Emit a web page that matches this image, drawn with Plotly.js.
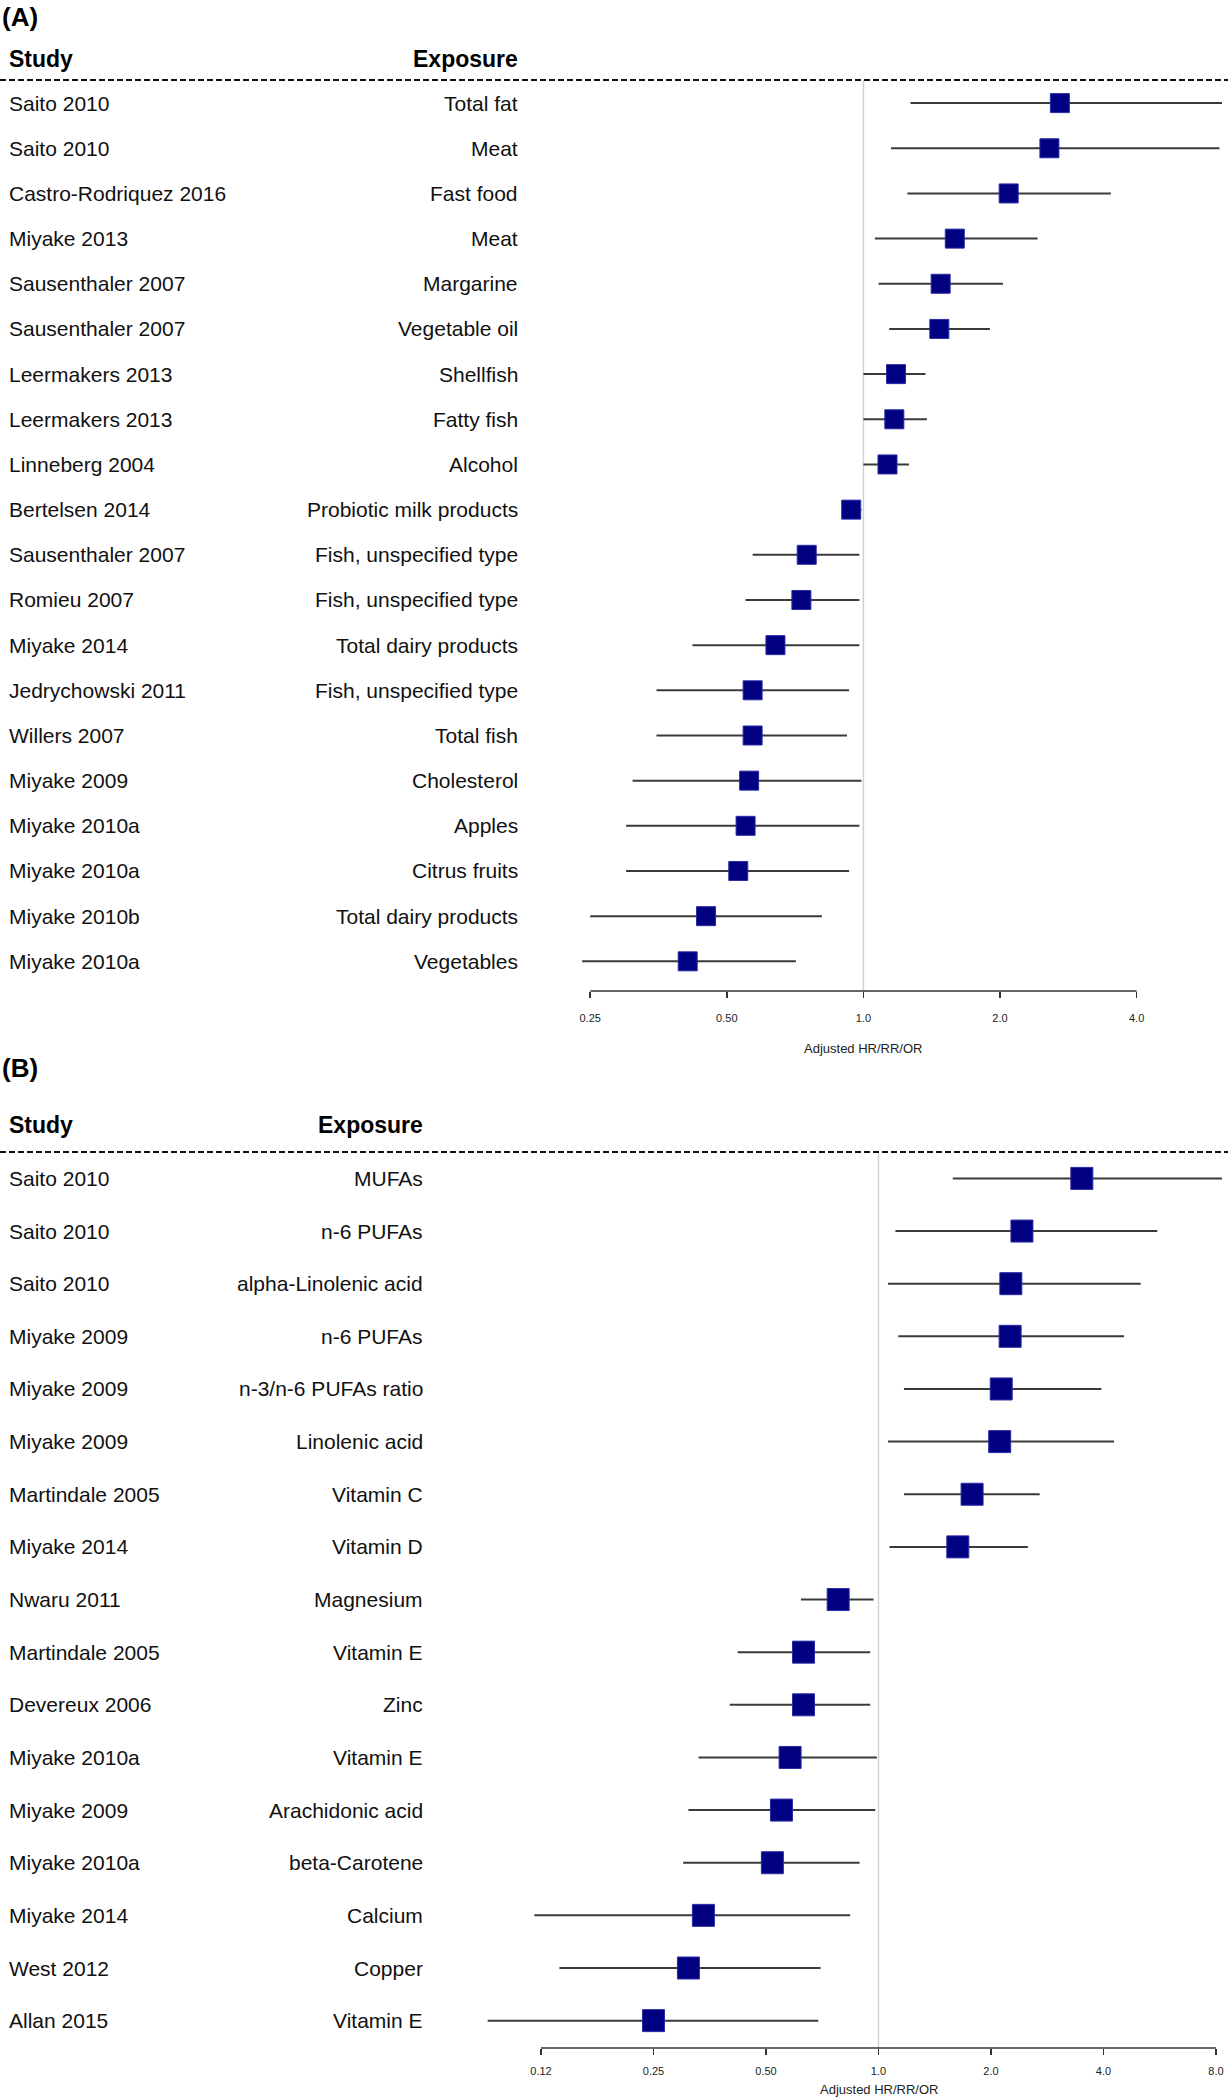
<!DOCTYPE html>
<html>
<head>
<meta charset="utf-8">
<script src="https://cdn.plot.ly/plotly-3.0.1.min.js"></script>
<style>
  html, body { margin: 0; padding: 0; background: #fff; }
  #forest { width: 1228px; height: 2100px; }
</style>
</head>
<body>
<div id="forest"></div>
<script>
// Panel A: foods
var studyA = ['Saito 2010', 'Saito 2010', 'Castro-Rodriquez 2016', 'Miyake 2013', 'Sausenthaler 2007',
  'Sausenthaler 2007', 'Leermakers 2013', 'Leermakers 2013', 'Linneberg 2004', 'Bertelsen 2014',
  'Sausenthaler 2007', 'Romieu 2007', 'Miyake 2014', 'Jedrychowski 2011', 'Willers 2007',
  'Miyake 2009', 'Miyake 2010a', 'Miyake 2010a', 'Miyake 2010b', 'Miyake 2010a'];
var exposureA = ['Total fat', 'Meat', 'Fast food', 'Meat', 'Margarine', 'Vegetable oil', 'Shellfish',
  'Fatty fish', 'Alcohol', 'Probiotic milk products', 'Fish, unspecified type', 'Fish, unspecified type',
  'Total dairy products', 'Fish, unspecified type', 'Total fish', 'Cholesterol', 'Apples',
  'Citrus fruits', 'Total dairy products', 'Vegetables'];
var hrA = [2.71, 2.57, 2.09, 1.59, 1.48, 1.47, 1.18, 1.17, 1.13, 0.94, 0.75, 0.73, 0.64, 0.57, 0.57, 0.56, 0.55, 0.53, 0.45, 0.41];
var loA = [1.27, 1.15, 1.25, 1.06, 1.08, 1.14, 1.00, 1.00, 1.00, 0.92, 0.57, 0.55, 0.42, 0.35, 0.35, 0.31, 0.30, 0.30, 0.25, 0.24];
var hiA = [6.20, 6.09, 3.51, 2.42, 2.03, 1.90, 1.37, 1.38, 1.26, 0.99, 0.98, 0.98, 0.98, 0.93, 0.92, 0.99, 0.98, 0.93, 0.81, 0.71];

// Panel B: nutrients
var studyB = ['Saito 2010', 'Saito 2010', 'Saito 2010', 'Miyake 2009', 'Miyake 2009', 'Miyake 2009',
  'Martindale 2005', 'Miyake 2014', 'Nwaru 2011', 'Martindale 2005', 'Devereux 2006', 'Miyake 2010a',
  'Miyake 2009', 'Miyake 2010a', 'Miyake 2014', 'West 2012', 'Allan 2015'];
var exposureB = ['MUFAs', 'n-6 PUFAs', 'alpha-Linolenic acid', 'n-6 PUFAs', 'n-3/n-6 PUFAs ratio',
  'Linolenic acid', 'Vitamin C', 'Vitamin D', 'Magnesium', 'Vitamin E', 'Zinc', 'Vitamin E',
  'Arachidonic acid', 'beta-Carotene', 'Calcium', 'Copper', 'Vitamin E'];
var hrB = [3.50, 2.42, 2.26, 2.25, 2.13, 2.11, 1.78, 1.63, 0.78, 0.63, 0.63, 0.58, 0.55, 0.52, 0.34, 0.31, 0.25];
var loB = [1.58, 1.11, 1.06, 1.13, 1.17, 1.06, 1.17, 1.07, 0.62, 0.42, 0.40, 0.33, 0.31, 0.30, 0.12, 0.14, 0.090];
var hiB = [8.30, 5.57, 5.03, 4.54, 3.95, 4.27, 2.70, 2.51, 0.97, 0.95, 0.95, 0.99, 0.98, 0.89, 0.84, 0.70, 0.69];

var tickValsA = [0.25, 0.5, 1, 2, 4];
var tickTextA = ['0.25', '0.50', '1.0', '2.0', '4.0'];
var tickValsB = [0.125, 0.25, 0.5, 1, 2, 4, 8];
var tickTextB = ['0.12', '0.25', '0.50', '1.0', '2.0', '4.0', '8.0'];
var refValue = 1;

var W = 1228, H = 2100, RIGHT = 1222;
var FONT = 'Liberation Sans, Arial, sans-serif';

// pixel geometry of each panel (top dashed line, axis line, first row, row step, x of 1.0, px per doubling)
var geoA = { label: 17, header: 59, top: 80, bottom: 991, row0: 103.1, step: 45.17, ref: 863.4, oct: 136.6, left: 540, expRight: 520, tickStand: 11, titleY: 1048, marker: 19 };
var geoB = { label: 1068, header: 1125, top: 1152, bottom: 2048, row0: 1178.4, step: 52.64, ref: 878.5, oct: 112.5, left: 442, expRight: 424.5, tickStand: 7, titleY: 2089, marker: 22 };

function py(px) { return 1 - px / H; }

function panel(name, geo, study, exposure, hr, lo, hi, tickVals, tickText, xa, ya) {
  var n = study.length;
  var rows = study.map(function (s, i) { return n - 1 - i; });

  // CI whiskers as one broken line
  var cx = [], cy = [];
  rows.forEach(function (r, i) { cx.push(lo[i], hi[i], null); cy.push(r, r, null); });

  var traces = [
    { x: cx, y: cy, xaxis: xa, yaxis: ya, type: 'scatter', mode: 'lines',
      line: { color: '#3a3a3a', width: 2 }, hoverinfo: 'skip', showlegend: false },
    { x: hr, y: rows, xaxis: xa, yaxis: ya, type: 'scatter', mode: 'markers',
      marker: { symbol: 'square', size: geo.marker, color: '#000080', line: { color: '#2b2ba8', width: 1 } },
      showlegend: false }
  ];

  var log2ToLog10 = Math.log10(2);
  var xaxis = {
    type: 'log', anchor: ya,
    domain: [geo.left / W, RIGHT / W],
    range: [(geo.left - geo.ref) / geo.oct * log2ToLog10, (RIGHT - geo.ref) / geo.oct * log2ToLog10],
    showgrid: false, zeroline: false, showline: false,
    ticks: 'outside', ticklen: 6, tickwidth: 1.5, tickcolor: '#333',
    tickvals: tickVals, ticktext: tickText, ticklabelstandoff: geo.tickStand,
    tickfont: { family: FONT, size: 11, color: '#222' }
  };
  var yaxis = {
    domain: [py(geo.bottom), py(geo.top)],
    range: [(n - 1) - (geo.bottom - geo.row0) / geo.step, (n - 1) + (geo.row0 - geo.top) / geo.step],
    visible: false, showgrid: false, zeroline: false
  };

  var shapes = [
    // reference line at 1
    { type: 'line', layer: 'below', xref: xa, yref: 'paper', x0: refValue, x1: refValue,
      y0: py(geo.bottom), y1: py(geo.top), line: { color: '#d2d2d2', width: 1.5 } },
    // dashed header rule across the page
    { type: 'line', xref: 'paper', yref: 'paper', x0: 0, x1: 1, y0: py(geo.top), y1: py(geo.top),
      line: { color: '#111', width: 2, dash: '6px,3px' } },
    // axis line between first and last tick
    { type: 'line', xref: xa, yref: 'paper', x0: tickVals[0], x1: tickVals[tickVals.length - 1],
      y0: py(geo.bottom), y1: py(geo.bottom), line: { color: '#333', width: 1.5 } }
  ];

  var ann = [
    { text: '<b>' + name + '</b>', xref: 'paper', yref: 'paper', x: 0, y: py(geo.label),
      xanchor: 'left', yanchor: 'middle', showarrow: false, font: { family: FONT, size: 26, color: '#000' } },
    { text: '<b>Study</b>', xref: 'paper', yref: 'paper', x: 7 / W, y: py(geo.header),
      xanchor: 'left', yanchor: 'middle', showarrow: false, font: { family: FONT, size: 23, color: '#000' } },
    { text: '<b>Exposure</b>', xref: 'paper', yref: 'paper', x: geo.expRight / W, y: py(geo.header),
      xanchor: 'right', yanchor: 'middle', showarrow: false, font: { family: FONT, size: 23, color: '#000' } },
    { text: 'Adjusted HR/RR/OR', xref: xa, yref: 'paper', x: Math.log10(refValue), y: py(geo.titleY),
      xanchor: 'center', yanchor: 'middle', showarrow: false, font: { family: FONT, size: 13, color: '#222' } }
  ];
  rows.forEach(function (r, i) {
    ann.push({ text: study[i], xref: 'paper', yref: ya, x: 7 / W, y: r, xanchor: 'left', yanchor: 'middle',
      showarrow: false, font: { family: FONT, size: 21, color: '#111' } });
    ann.push({ text: exposure[i], xref: 'paper', yref: ya, x: geo.expRight / W, y: r, xanchor: 'right', yanchor: 'middle',
      showarrow: false, font: { family: FONT, size: 21, color: '#111' } });
  });

  return { traces: traces, xaxis: xaxis, yaxis: yaxis, shapes: shapes, annotations: ann };
}

var pA = panel('(A)', geoA, studyA, exposureA, hrA, loA, hiA, tickValsA, tickTextA, 'x', 'y');
var pB = panel('(B)', geoB, studyB, exposureB, hrB, loB, hiB, tickValsB, tickTextB, 'x2', 'y2');

var layout = {
  width: W, height: H,
  margin: { l: 0, r: 0, t: 0, b: 0 },
  paper_bgcolor: '#fff', plot_bgcolor: '#fff',
  showlegend: false,
  xaxis: pA.xaxis, yaxis: pA.yaxis,
  xaxis2: pB.xaxis, yaxis2: pB.yaxis,
  shapes: pA.shapes.concat(pB.shapes),
  annotations: pA.annotations.concat(pB.annotations)
};

Plotly.newPlot('forest', pA.traces.concat(pB.traces), layout, { staticPlot: true, displayModeBar: false });
</script>
</body>
</html>
